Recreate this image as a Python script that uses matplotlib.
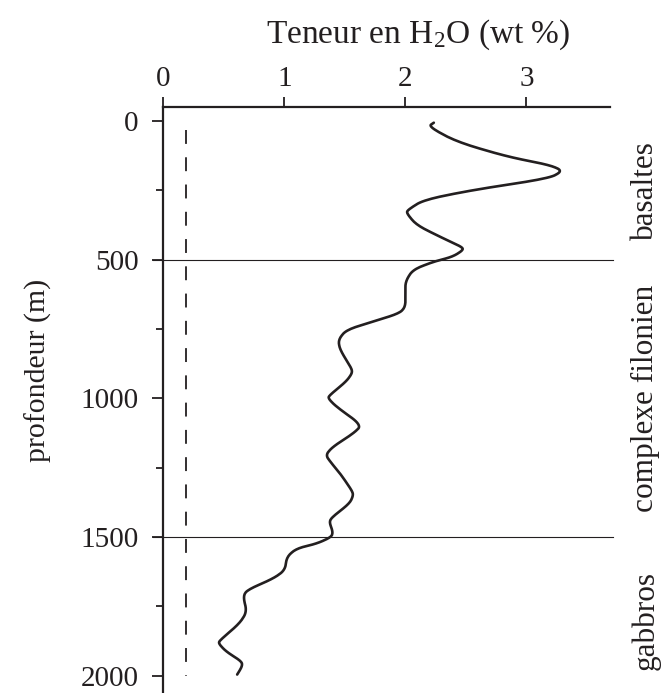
import numpy as np
import matplotlib
matplotlib.use('Agg')
import matplotlib.pyplot as plt

plt.rcParams['font.family'] = ['Liberation Serif', 'DejaVu Serif']
plt.rcParams['mathtext.fontset'] = 'custom'
plt.rcParams['mathtext.rm'] = 'Liberation Serif'
plt.rcParams['mathtext.it'] = 'Liberation Serif:italic'

# Profil H2O (wt %) vs profondeur (m)
h2o = [2.24, 2.19, 2.42, 2.84, 3.19, 3.30, 3.19, 2.56, 2.15, 2.02, 2.01, 2.09,
       2.28, 2.46, 2.48, 2.39, 2.23, 2.06, 2.00, 2.00, 2.00, 1.95, 1.73, 1.51,
       1.445, 1.46, 1.555, 1.56, 1.51, 1.377, 1.36, 1.43, 1.64, 1.57, 1.40,
       1.34, 1.39, 1.46, 1.555, 1.57, 1.54, 1.40, 1.37, 1.40, 1.39, 1.27,
       1.10, 1.02, 1.005, 0.91, 0.69, 0.66, 0.69, 0.63, 0.47, 0.455, 0.52,
       0.65, 0.65, 0.605]
depth = [5, 20, 75, 129, 159, 180, 207, 249, 285, 321, 333, 375,
         417, 453, 465, 490, 508, 537, 580, 620, 670, 694, 724, 754,
         790, 826, 892, 910, 940, 988, 1000, 1031, 1097, 1127, 1175,
         1205, 1235, 1271, 1331, 1349, 1379, 1427, 1445, 1481, 1500, 1524,
         1542, 1572, 1620, 1650, 1692, 1716, 1770, 1812, 1872, 1884, 1914,
         1950, 1968, 2000]

ref_h2o = 0.19
ref_depth = [32, 2000]
limites = [500, 1500]
couches = ['basaltes', 'complexe filonien', 'gabbros']
couches_y = [250, 1000, 1800]

ink = '#231f20'

fig = plt.figure(figsize=(6.71, 6.93), dpi=100)
ax = fig.add_axes([0.2434, 0.0, 0.6657, 0.8456])

# courbe lissée
t = np.arange(len(depth))
tt = np.linspace(0, len(depth) - 1, 600)
xs = np.interp(tt, t, h2o)
ys = np.interp(tt, t, depth)
k = np.ones(9) / 9
xs = np.convolve(np.pad(xs, 4, mode='edge'), k, mode='valid')
ys = np.convolve(np.pad(ys, 4, mode='edge'), k, mode='valid')
ax.plot(xs, ys, color=ink, lw=1.9, solid_capstyle='round')

ax.plot([ref_h2o, ref_h2o], ref_depth, color=ink, lw=1.3,
        linestyle=(0, (7.7, 7.4)))

for d in limites:
    ax.axhline(d, xmin=-0.023, xmax=1.007, color=ink, lw=0.8, clip_on=False)

ax.set_xlim(0, 3.69)
ax.set_ylim(2063, -50)

ax.xaxis.tick_top()
ax.set_xticks([0, 1, 2, 3])
ax.set_yticks([0, 500, 1000, 1500, 2000])
ax.set_yticks([250, 750, 1250, 1750], minor=True)
ax.tick_params(axis='x', direction='out', length=7, width=1.3, color=ink,
               labelsize=21, labelcolor=ink, pad=4)
ax.tick_params(axis='y', which='major', direction='out', length=8, width=1.3,
               color=ink, labelsize=21, labelcolor=ink, pad=10)
ax.tick_params(axis='y', which='minor', direction='out', length=5, width=1.3,
               color=ink)

for s in ['right', 'bottom']:
    ax.spines[s].set_visible(False)
for s in ['left', 'top']:
    ax.spines[s].set_linewidth(1.6)
    ax.spines[s].set_color(ink)

ax.set_ylabel('profondeur (m)', fontsize=21.5, color=ink)
ax.yaxis.set_label_coords(-0.249, 0.551)
fig.text(0.623, 0.939, 'Teneur en H$_\\mathrm{2}$O (wt %)', fontsize=24,
         color=ink, ha='center', va='baseline')

for nom, y in zip(couches, couches_y):
    ax.text(1.08, y, nom, transform=ax.get_yaxis_transform(), rotation=90,
            ha='center', va='center', fontsize=22.5, color=ink)

fig.savefig('out.png', dpi=100)
